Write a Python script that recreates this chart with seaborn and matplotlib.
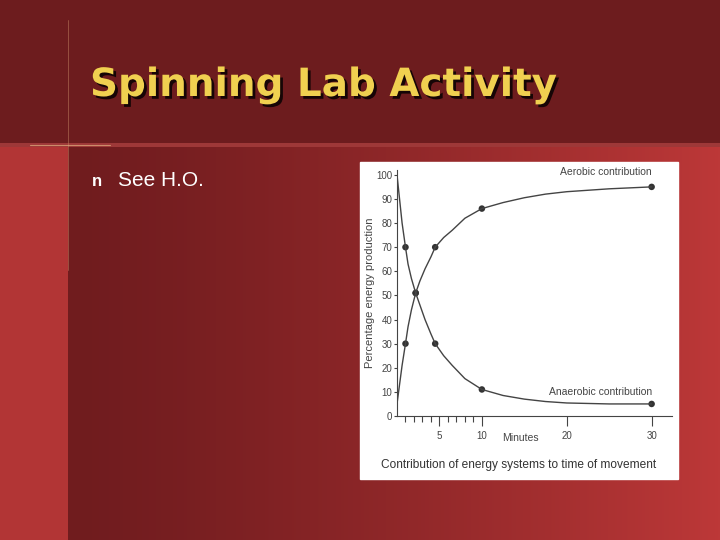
import numpy as np
import matplotlib.pyplot as plt
import seaborn as sns
import matplotlib.patheffects as pe

# values
minutes = [1, 2.2, 4.5, 10, 30]
aerobic = [30, 51, 70, 86, 95]
anaerobic = [70, 51, 30, 11, 5]
curve_x = [0, 0.3, 0.6, 1, 1.3, 1.7, 2.2, 2.7, 3.3, 4, 4.5, 5.5, 6.5, 8, 10, 12.5, 15, 17.5, 20, 25, 30]
curve_aer = [5, 13, 21, 30, 37, 44, 51, 56, 61, 66, 70, 74, 77, 82, 86, 88.5, 90.5, 92, 93, 94.2, 95]
curve_ana = [100, 90, 80, 70, 63, 57, 51, 46, 40, 34, 30, 25, 21, 15.5, 11, 8.5, 7, 6, 5.4, 5, 5]
y_ticks = list(range(0, 101, 10))
x_major = [5, 10, 20, 30]
x_minor = [1, 2, 3, 4, 6, 7, 8, 9]

sns.set_style("white")
plt.rcParams['font.family'] = ['Liberation Sans', 'DejaVu Sans']

fig = plt.figure(figsize=(7.2, 5.4), dpi=100)

# slide background
bg = fig.add_axes([0, 0, 1, 1])
W, H = 720, 540
xx = np.linspace(0, 1, W)
c0 = np.array([0.44, 0.11, 0.12])
c1 = np.array([0.74, 0.22, 0.22])
t = np.clip((xx - 0.1) / 0.9, 0, 1) ** 1.3
row = c0[None, :] * (1 - t[:, None]) + c1[None, :] * t[:, None]
img = np.repeat(row[None, :, :], H, axis=0)
img[:145, :, :] = np.array([0.43, 0.11, 0.12])
img[145:, :68, :] = np.array([0.70, 0.21, 0.21])
img[143:147, :, :] = np.array([0.62, 0.22, 0.22])
bg.imshow(img, extent=[0, W, H, 0], aspect='auto')
bg.plot([68, 68], [20, 270], color='#c08060', lw=0.6, alpha=0.6)
bg.plot([30, 110], [145, 145], color='#e0b080', lw=0.8, alpha=0.7)
bg.set_xlim(0, W)
bg.set_ylim(H, 0)
bg.axis('off')
bg.text(90, 85, "Spinning Lab Activity", fontsize=28, fontweight='bold', color='#f0d050',
        family=['DejaVu Sans'], va='center',
        path_effects=[pe.withSimplePatchShadow(offset=(2, -2), shadow_rgbFace='black', alpha=0.8)])
bg.text(92, 181, "n", fontsize=12, color='white', va='center', fontweight='bold')
bg.text(118, 180, "See H.O.", fontsize=15, color='white', va='center')
bg.add_patch(plt.Rectangle((360, 162), 318, 317, color='white'))
bg.text(519, 465, "Contribution of energy systems to time of movement", fontsize=8.6,
        color='#333333', ha='center', va='center')

ax = fig.add_axes([397 / W, (540 - 416) / H, 275 / W, 246 / H])
ax.patch.set_alpha(0)
sns.lineplot(x=curve_x, y=curve_aer, ax=ax, color='#444444', lw=1)
sns.lineplot(x=curve_x, y=curve_ana, ax=ax, color='#444444', lw=1)
sns.scatterplot(x=minutes, y=aerobic, ax=ax, color='#333333', s=22, edgecolor='none')
sns.scatterplot(x=minutes, y=anaerobic, ax=ax, color='#333333', s=22, edgecolor='none')
ax.set_xlim(0, 32.4)
ax.set_ylim(0, 102)
ax.set_yticks(y_ticks)
ax.set_xticks(x_major)
ax.set_xticks(x_minor, minor=True)
ax.tick_params(axis='both', which='both', direction='out', colors='#444444',
               labelsize=7, length=4, width=0.8, left=True, bottom=True)
ax.tick_params(axis='y', length=2.5, pad=1)
ax.tick_params(axis='x', which='major', length=7)
for s in ['top', 'right']:
    ax.spines[s].set_visible(False)
for s in ['left', 'bottom']:
    ax.spines[s].set_color('#444444')
    ax.spines[s].set_linewidth(0.8)
ax.set_ylabel("Percentage energy production", fontsize=8, color='#444444', labelpad=1)
ax.text(14.5, -9, "Minutes", fontsize=7.5, color='#444444', ha='center', va='center')
ax.text(30, 101, "Aerobic contribution", fontsize=7.5, color='#444444', ha='right', va='center')
ax.text(30, 10, "Anaerobic contribution", fontsize=7.5, color='#444444', ha='right', va='center')

fig.savefig("out.png", dpi=100)
